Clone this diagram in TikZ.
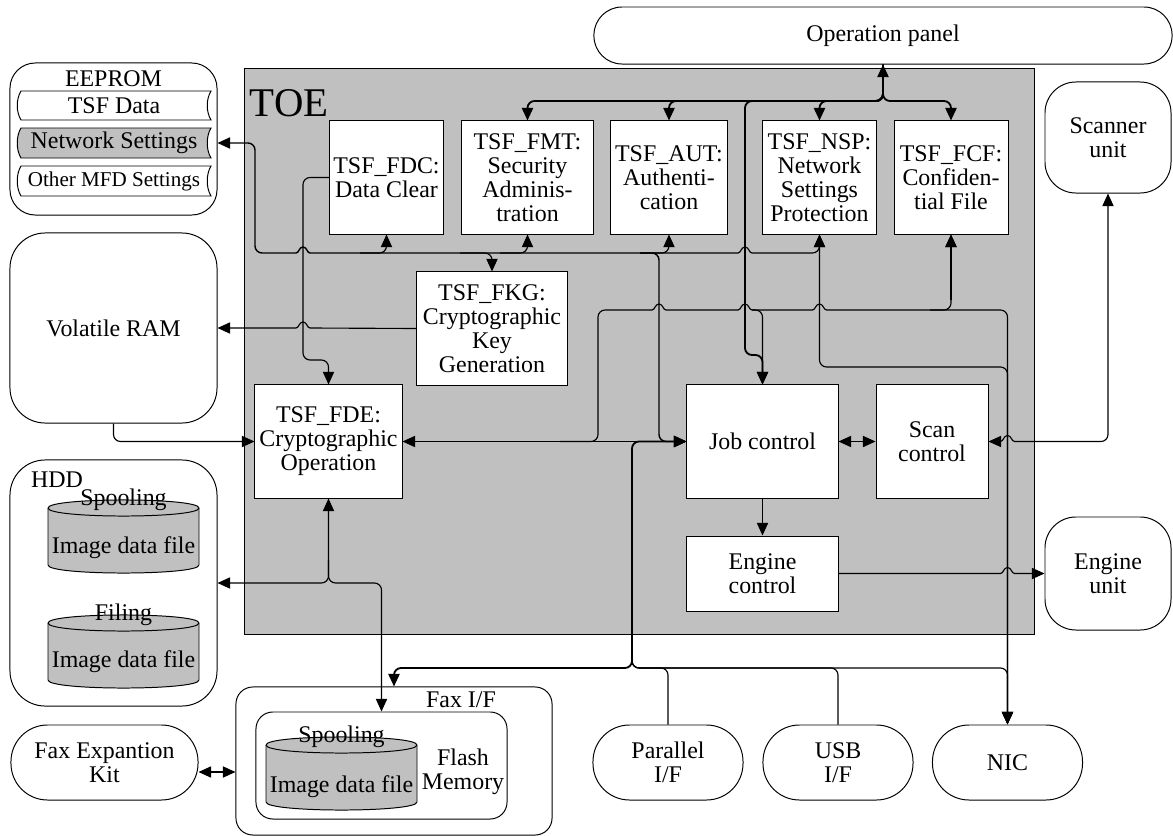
\documentclass[tikz,border=0pt]{standalone}
\usepackage{fontspec}
\setmainfont{Liberation Serif}
\usetikzlibrary{arrows.meta, calc}
\definecolor{toegray}{RGB}{192,192,192}
\newcommand{\hop}[2]{[sharp corners] -- ({#1-7},#2) .. controls ({#1-4},#2) and ({#1-4},{#2-6}) .. (#1,{#2-6}) .. controls ({#1+4},{#2-6}) and ({#1+4},#2) .. ({#1+7},#2) [rounded corners=5pt]}

\begin{document}
\begin{tikzpicture}[x=0.025cm, y=-0.025cm,
        every node/.style={font=\fontsize{17}{17}\selectfont},
        box/.style={draw, fill=white, align=center, inner sep=1pt, minimum height=2.825cm, line width=0.7pt},
        unit/.style={draw, fill=white, align=center, inner sep=1pt, line width=0.7pt},
        line/.style={line width=0.8pt, rounded corners=5pt},
        bus/.style={line width=1.3pt, rounded corners=5pt},
        >={Triangle[length=9pt,width=8pt]}]
        \useasboundingbox (0,0) rectangle (1173,836);
        
        \filldraw[fill=toegray, line width=0.7pt] (244,68) rectangle (1034,634);
        \node[anchor=west, font=\fontsize{29}{29}\selectfont] (toe) at (245,103) {TOE};
        
        \node[unit, rounded corners=20pt, minimum width=14.45cm, minimum height=1.425cm] (op) at (883,35.5) {Operation panel};
        
        \node[unit, rounded corners=18pt, minimum width=5.175cm, minimum height=3.8cm] (eeprom) at (113.5,139) {};
        \node (eepromlbl) at (113.5,79) {EEPROM};
        \filldraw[fill=white, line width=0.7pt] (21,91) -- (211,91) .. controls (206,99) and (206,112) .. (211,120) -- (21,120) .. controls (16,112) and (16,99) .. (21,91) -- cycle;
        \filldraw[fill=toegray, line width=0.7pt] (21,128) -- (211,128) .. controls (206,136) and (206,150) .. (211,158) -- (21,158) .. controls (16,150) and (16,136) .. (21,128) -- cycle;
        \filldraw[fill=white, line width=0.7pt] (21,166) -- (211,166) .. controls (206,174) and (206,188) .. (211,196) -- (21,196) .. controls (16,188) and (16,174) .. (21,166) -- cycle;
        \node (tsfdata) at (114,105.5) {TSF Data};
        \node (netset) at (114,143) {Network Settings};
        \node[font=\fontsize{15}{15}\selectfont] (othset) at (114,181) {Other MFD Settings};
        
        \node[unit, rounded corners=25pt, minimum width=5.175cm, minimum height=4.75cm] (ram) at (113.5,328) {Volatile RAM};
        
        \node[unit, rounded corners=25pt, minimum width=5.175cm, minimum height=6.15cm] (hdd) at (113.5,583) {};
        \node (hddlbl) at (57,480) {HDD};
        \filldraw[fill=toegray, line width=0.7pt] (48,508) -- (48,565) .. controls (48,575.7) and (199,575.7) .. (199,565) -- (199,508) .. controls (199,497.3) and (48,497.3) .. (48,508) -- cycle;
        \draw[line width=0.7pt] (48,508) .. controls (48,518.7) and (199,518.7) .. (199,508);
        \node (spool) at (123.5,500) {Spooling};
        \node (spoolimg) at (123.5,548) {Image data file};
        \filldraw[fill=toegray, line width=0.7pt] (48,623) -- (48,680) .. controls (48,690.7) and (199,690.7) .. (199,680) -- (199,623) .. controls (199,612.3) and (48,612.3) .. (48,623) -- cycle;
        \draw[line width=0.7pt] (48,623) .. controls (48,633.7) and (199,633.7) .. (199,623);
        \node (filing) at (123.5,615) {Filing};
        \node (filingimg) at (123.5,662) {Image data file};
        
        \node[box, minimum width=2.825cm] (fdc) at (386.5,177.5) {TSF\_FDC:\\Data Clear};
        \node[box, minimum width=3.275cm] (fmt) at (527.5,177.5) {TSF\_FMT:\\Security\\Adminis-\\tration};
        \node[box, minimum width=2.9cm] (aut) at (669,177.5) {TSF\_AUT:\\Authenti-\\cation};
        \node[box, minimum width=2.825cm] (nsp) at (819.5,177.5) {TSF\_NSP:\\Network\\Settings\\Protection};
        \node[box, minimum width=2.85cm] (fcf) at (951,177.5) {TSF\_FCF:\\Confiden-\\tial File};
        \node[box, minimum width=3.75cm] (fkg) at (492,328.5) {TSF\_FKG:\\Cryptographic\\Key\\Generation};
        \node[box, minimum width=3.675cm] (fde) at (328.5,441.5) {TSF\_FDE:\\Cryptographic\\Operation};
        \node[box, minimum width=3.775cm] (job) at (762.5,441.5) {Job control};
        \node[box, minimum width=2.8cm] (scan) at (932,441.5) {Scan\\control};
        \node[box, minimum width=3.775cm, minimum height=1.875cm] (eng) at (762.5,573.5) {Engine\\control};
        
        \node[unit, rounded corners=22pt, minimum width=3.15cm, minimum height=2.775cm] (scanner) at (1108,137.5) {Scanner\\unit};
        \node[unit, rounded corners=22pt, minimum width=3.15cm, minimum height=2.825cm] (engunit) at (1108,573.5) {Engine\\unit};
        
        \node[unit, rounded corners=26pt, minimum width=4.675cm, minimum height=1.875cm] (faxkit) at (104.5,762.5) {Fax Expantion\\Kit};
        \node[unit, rounded corners=12pt, minimum width=7.9cm, minimum height=3.7cm] (faxif) at (394,761) {};
        \node (faxlbl) at (461,700) {Fax I/F};
        \node[unit, rounded corners=12pt, minimum width=6.275cm, minimum height=2.675cm] (flash) at (381.5,765.5) {};
        \filldraw[fill=toegray, line width=0.7pt] (266,745) -- (266,802) .. controls (266,812.7) and (417,812.7) .. (417,802) -- (417,745) .. controls (417,734.3) and (266,734.3) .. (266,745) -- cycle;
        \draw[line width=0.7pt] (266,745) .. controls (266,755.7) and (417,755.7) .. (417,745);
        \node (spool2) at (341.5,737) {Spooling};
        \node (spool2img) at (341.5,787) {Image data file};
        \node[align=center] (flashlbl) at (463,772) {Flash\\Memory};
        
        \node[unit, rounded corners=26pt, minimum width=3.75cm, minimum height=1.875cm] (par) at (668,762.5) {Parallel\\I/F};
        \node[unit, rounded corners=26pt, minimum width=3.75cm, minimum height=1.875cm] (usb) at (838,762.5) {USB\\I/F};
        \node[unit, rounded corners=26pt, minimum width=3.75cm, minimum height=1.875cm] (nic) at (1007.5,762.5) {NIC};
        
        \coordinate (jop) at (883,101);
        \draw[bus, <->] (op.south) -- (jop) -| (fmt.north);
        \draw[bus, ->] (op.south) -- (jop) -| (aut.north);
        \draw[bus, ->] (op.south) -- (jop) -| (nsp.north);
        \draw[bus, ->] (op.south) -- (jop) -| (fcf.north);
        \draw[bus, ->] (op.south) -- (jop) -- (745,101) -- (745,355) -- (762.5,355) -- (job.north);
        
        \coordinate (jns) at (659,253);
        \draw[line, line width=1pt, <->] (eeprom.east |- netset) -- (255,143) -- (255,253) \hop{303}{253} -- (jns) -- (659,441.5) -- (job.west);
        \draw[line, ->] (360,253) -| (fdc.south);
        \draw[line, ->] (460,253) -| (fkg.north);
        \draw[line, ->] (500,253) -| (fmt.south);
        \draw[line, ->] (640,253) -| (aut.south);
        \draw[line, ->] (640,253) \hop{745}{253} -| (nsp.south);
        
        \draw[line, ->] (fdc.west) -- (303,177.5) -- (303,360) -- (328.5,360) -- (fde.north);
        \draw[line, <-] (ram.east) \hop{303}{328} -- (fkg.west);
        \draw[line, ->] (ram.south) -- (113.5,441.5) -- (fde.west);
        \draw[line, <->] (fde.east) -- (job.west);
        
        \coordinate (jfcf) at (951,310);
        \draw[line, ->] (560,441.5) -- (598,441.5) -- (598,310) \hop{659}{310} \hop{745}{310} \hop{819.5}{310} -- (jfcf) -- (fcf.south);
        \draw[bus, ->] (951,300) -- (fcf.south);
        \draw[line, ->] (752,310) -- (762.5,310) -- (job.north);
        \draw[line, ->] (930,310) -- (1007.5,310) -- (nic.north);
        \draw[line, <->] (nsp.south) -- (819.5,367) -- (1007.5,367) -- (nic.north);
        
        \draw[line, <->] (job.east) -- (scan.west);
        \draw[line, <->] (scan.east) \hop{1007.5}{441.5} -- (1108,441.5) -- (scanner.south);
        \draw[line, ->] (job.south) -- (eng.north);
        \draw[line, ->] (eng.east) \hop{1007.5}{573.5} -- (engunit.west);
        
        \coordinate (jbot) at (632,668);
        \draw[bus, <->] (job.west) -- (632,441.5) -- (jbot) -- (394,668) -- (faxif.north);
        \draw[line] (632,600) -- (jbot) -- (668,668) -- (par.north);
        \draw[line] (632,600) -- (jbot) -- (838,668) -- (usb.north);
        \draw[line, ->] (632,600) -- (jbot) -- (1007.5,668) -- (nic.north);
        
        \draw[line, <->] (hdd.east) -- (328.5,583) -- (fde.south);
        \draw[line, ->] (328.5,560) -- (328.5,583) -- (381.5,583) -- (flash.north);
        \draw[line, <->] (faxkit.east |- 0,772) -- (faxif.west |- 0,772);
    \end{tikzpicture}
\end{document}
